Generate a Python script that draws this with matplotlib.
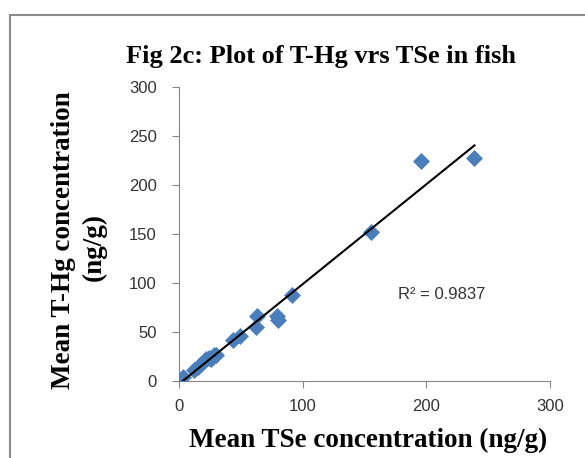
import numpy as np
import matplotlib.pyplot as plt
from matplotlib.patches import Rectangle

# mean TSe (x) and mean T-Hg (y), ng/g
tse = [3, 12, 15, 18, 20, 22, 24, 26, 28, 30, 44, 49, 62, 63, 79, 80, 91, 155, 196, 239]
thg = [4, 11, 14, 17, 20, 22, 24, 23, 27, 27, 42, 46, 55, 66, 66, 62, 88, 152, 225, 228]
xticks = [0, 100, 200, 300]
yticks = [0, 50, 100, 150, 200, 250, 300]

fig = plt.figure(figsize=(5.85, 4.58), dpi=100)
ax = fig.add_axes([0.306, 0.168, 0.634, 0.642])

# outer chart frame
fig.patches.append(Rectangle((10/585, -0.1), 1.2, 1 - 15/458 + 0.1, transform=fig.transFigure,
                             fill=False, edgecolor='#8c8c8c', linewidth=1.5))

ax.scatter(tse, thg, marker='D', s=75, color='#4a7ebb', zorder=3, linewidths=0)

# linear trendline
k, b = np.polyfit(tse, thg, 1)
xs = np.array([min(tse), max(tse)])
ax.plot(xs, k*xs + b, color='black', linewidth=1.5, zorder=4)
ax.text(177, 88, 'R² = 0.9837', fontsize=12, family='Liberation Sans', color='#333333',
        va='center')

ax.set_xlim(0, 300)
ax.set_ylim(0, 300)
ax.set_xticks(xticks)
ax.set_yticks(yticks)
for s in ['top', 'right']:
    ax.spines[s].set_visible(False)
for s in ['left', 'bottom']:
    ax.spines[s].set_color('#868686')
ax.tick_params(direction='out', length=5, color='#868686', labelsize=12, labelcolor='#333333')
ax.tick_params(axis='x', pad=8)
ax.tick_params(axis='y', pad=11)
for lab in ax.get_xticklabels() + ax.get_yticklabels():
    lab.set_family('Liberation Sans')

fig.text(0.549, 1 - 57/458, 'Fig 2c: Plot of T-Hg vrs TSe in fish', family='Liberation Serif',
         weight='bold', fontsize=19, ha='center', va='center')
fig.text(0.629, 1 - 440/458, 'Mean TSe concentration (ng/g)', family='Liberation Serif',
         weight='bold', fontsize=19.5, ha='center', va='center')
fig.text(64/585, 1 - 240/458, 'Mean T-Hg concentration', family='Liberation Serif',
         weight='bold', fontsize=19.5, ha='center', va='center', rotation=90)
fig.text(94/585, 1 - 247/458, '(ng/g)', family='Liberation Serif',
         weight='bold', fontsize=19.5, ha='center', va='center', rotation=90)

fig.savefig('out.png', dpi=100)
